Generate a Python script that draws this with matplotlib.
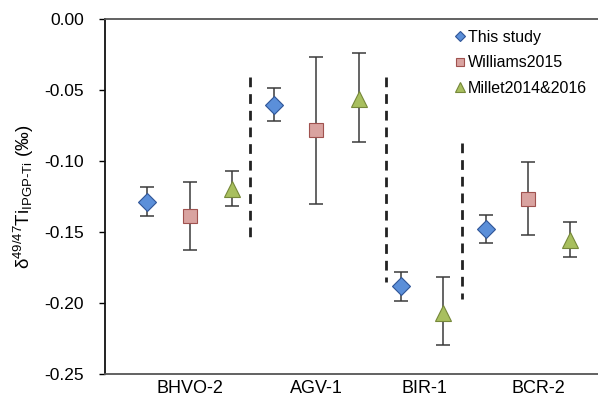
import matplotlib.pyplot as plt

plt.rcParams['font.family'] = ['Liberation Sans', 'DejaVu Sans']
plt.rcParams['mathtext.fontset'] = 'custom'
plt.rcParams['mathtext.rm'] = 'Liberation Sans'
plt.rcParams['mathtext.it'] = 'Liberation Sans'
plt.rcParams['mathtext.default'] = 'regular'

# samples and x positions of the markers
samples = ['BHVO-2', 'AGV-1', 'BIR-1', 'BCR-2']
sample_ticks = [2.0, 5.0, 7.55, 10.25]

# This study
x_this = [1, 4, 7, 9]
y_this = [-0.129, -0.0605, -0.188, -0.148]
lo_this = [-0.139, -0.0718, -0.1985, -0.158]
hi_this = [-0.118, -0.0486, -0.178, -0.138]

# Williams2015
x_will = [2, 5, 10]
y_will = [-0.139, -0.078, -0.127]
lo_will = [-0.163, -0.130, -0.152]
hi_will = [-0.115, -0.0268, -0.101]

# Millet2014&2016
x_mill = [3, 6, 8, 11]
y_mill = [-0.120, -0.056, -0.207, -0.1556]
lo_mill = [-0.132, -0.0866, -0.2295, -0.1675]
hi_mill = [-0.107, -0.024, -0.182, -0.143]

# dashed separators
sep_x = [3.43, 6.64, 8.45]
sep_top = [-0.041, -0.041, -0.087]
sep_bot = [-0.156, -0.185, -0.197]

fig = plt.figure(figsize=(5.98, 4.01), dpi=100)
ax = fig.add_axes([0.1756, 0.0673, 0.83, 0.8853])


def draw(x, y, lo, hi, marker, face, edge, ms, label):
    yerr = [[v - l for v, l in zip(y, lo)], [h - v for v, h in zip(y, hi)]]
    ax.errorbar(x, y, yerr=yerr, fmt='none', ecolor='#3a3a3a', elinewidth=1.1,
                capsize=5, capthick=1.1, zorder=2)
    ax.plot(x, y, linestyle='none', marker=marker, ms=ms, mfc=face, mec=edge,
            mew=0.8, label=label, zorder=3)


draw(x_this, y_this, lo_this, hi_this, 'D', '#5b8fd9', '#2f5597', 9, 'This study')
draw(x_will, y_will, lo_will, hi_will, 's', '#d9a3a0', '#a0524f', 10, 'Williams2015')
draw(x_mill, y_mill, lo_mill, hi_mill, '^', '#a8bf5e', '#76883a', 11, 'Millet2014&2016')

for sx, st, sb in zip(sep_x, sep_top, sep_bot):
    ax.plot([sx, sx], [st, sb], color='#222222', lw=2, linestyle=(0, (3.5, 2.5)), zorder=1)

ax.set_xlim(0, 11.74)
ax.set_ylim(-0.25, 0.0)
ax.set_yticks([0.0, -0.05, -0.10, -0.15, -0.20, -0.25])
ax.set_yticklabels(['0.00', '-0.05', '-0.10', '-0.15', '-0.20', '-0.25'])
ax.set_xticks(sample_ticks)
ax.set_xticklabels(samples)

ax.spines['right'].set_visible(False)
for s in ['left', 'top', 'bottom']:
    ax.spines[s].set_color('#555555')
    ax.spines[s].set_linewidth(1.3)
ax.spines['left'].set_color('#111111')

ax.tick_params(axis='y', direction='out', length=4, width=1, pad=11, labelsize=12.5)
ax.tick_params(axis='x', length=0, pad=4.5, labelsize=13)

ax.set_ylabel(r'δ$^{49/47}$Ti$_{IPGP\text{-}Ti}$ (‰)', fontsize=13.5, labelpad=6)

ax.legend(loc='upper left', bbox_to_anchor=(0.705, 0.969), frameon=False,
          fontsize=11.5, markerscale=0.6, handlelength=0.6, handletextpad=0.2,
          labelspacing=0.65, borderpad=0, borderaxespad=0)

plt.savefig('out.png', dpi=100)
